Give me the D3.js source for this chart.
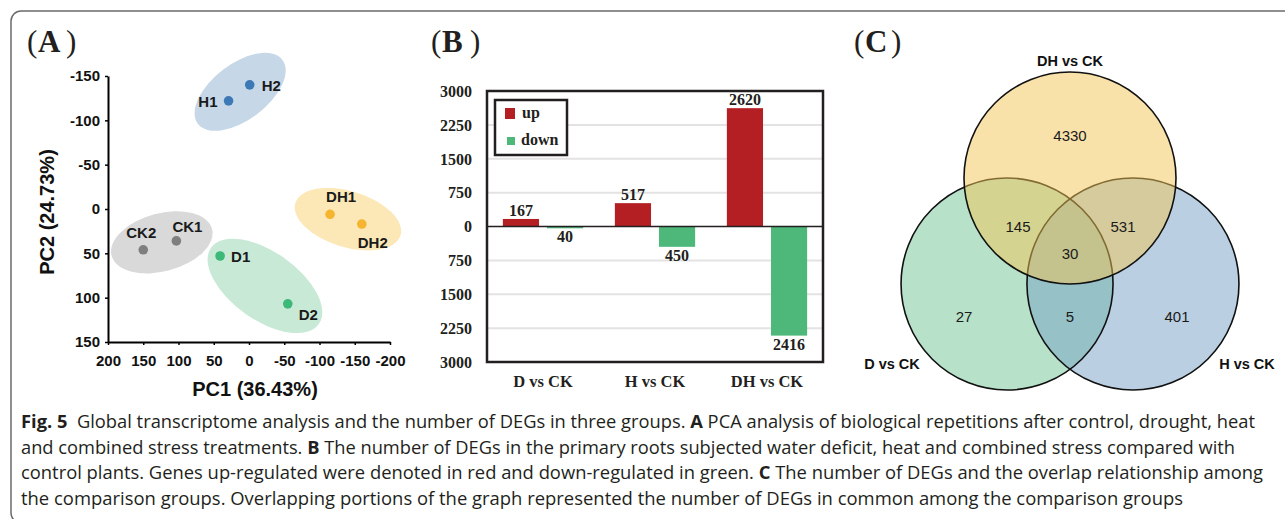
<!DOCTYPE html>
<html>
<head>
<meta charset="utf-8">
<script src="https://cdn.jsdelivr.net/npm/d3@7"></script>
<style>
body { margin: 0; background: #fff; }
svg { display: block; }
</style>
</head>
<body>
<svg id="fig" width="1285" height="519"></svg>
<script>
// panel A - PCA scores
var pcaSamples = ["CK1", "CK2", "D1", "D2", "H1", "H2", "DH1", "DH2"];
var pcaGroups = ["CK", "CK", "D", "D", "H", "H", "DH", "DH"];
var pcaPC1 = [103, 150, 41, -55, 29, -1, -115, -160];
var pcaPC2 = [36, 46, 53, 107, -122, -140, 6, 17];
var pcaTicksX = [200, 150, 100, 50, 0, -50, -100, -150, -200];
var pcaTicksY = [-150, -100, -50, 0, 50, 100, 150];

// panel B - DEG counts
var comparisons = ["D vs CK", "H vs CK", "DH vs CK"];
var upCounts = [167, 517, 2620];
var downCounts = [40, 450, 2416];
var degTicks = [3000, 2250, 1500, 750, 0, -750, -1500, -2250, -3000];

// panel C - venn
var vennSets = ["DH", "D", "H"];
var vennSetLabels = ["DH vs CK", "D vs CK", "H vs CK"];
var vennRegions = ["DH", "D", "H", "D&DH", "DH&H", "D&H", "D&DH&H"];
var vennCounts = [4330, 27, 401, 145, 531, 5, 30];

var svg = d3.select("#fig");
var ink = "#231f20";

svg.append("rect").attr("width", 1285).attr("height", 519).attr("fill", "#fff");
svg.append("rect")
    .attr("x", 11).attr("y", 11).attr("width", 1300).attr("height", 512)
    .attr("rx", 10)
    .attr("fill", "none").attr("stroke", "#6b6b6b").attr("stroke-width", 1.5);

function panelLetter(x, letter) {
    var t = svg.append("text").attr("y", 52)
        .attr("font-family", "Liberation Serif, serif").attr("font-size", 31).attr("fill", ink);
    t.append("tspan").attr("x", x).text("(");
    t.append("tspan").attr("x", x + 11).attr("font-weight", "bold").text(letter);
    t.append("tspan").attr("x", x + (letter === "C" ? 37 : 39)).text(")");
}
panelLetter(27, "A");
panelLetter(431, "B");
panelLetter(854, "C");

// ---------- A ----------
var groupColor = { CK: "#7f7f7f", D: "#3cb878", H: "#3d7ab5", DH: "#f5b52e" };
var groupFill = { CK: "#d9d9d9", D: "#c9e9d7", H: "#c6d7e8", DH: "#fce7b6" };
// ellipse shape per group: offset of centre from the pair midpoint, radii (px)
var groupShape = {
    CK: { dx: 2, dy: -3, rx: 52, ry: 29 },
    D: { dx: 11, dy: 6, rx: 66, ry: 34 },
    H: { dx: 1, dy: -1, rx: 53, ry: 28 },
    DH: { dx: 2, dy: 0, rx: 55, ry: 28 }
};
var labelPos = {
    CK1: [11, -9, "middle"], CK2: [-2, -12, "middle"],
    D1: [11, 6, "start"], D2: [11, 16, "start"],
    H1: [-11, 6, "end"], H2: [12, 6, "start"],
    DH1: [11, -12, "middle"], DH2: [11, 24, "middle"]
};

var xA = d3.scaleLinear().domain([200, -200]).range([108, 390]);
var yA = d3.scaleLinear().domain([-150, 150]).range([76, 342]);

var pca = pcaSamples.map(function (s, i) {
    return { id: s, group: pcaGroups[i], x: xA(pcaPC1[i]), y: yA(pcaPC2[i]) };
});

var gA = svg.append("g");
var groupNames = ["H", "CK", "D", "DH"];
groupNames.forEach(function (g) {
    var pts = pca.filter(function (d) { return d.group === g; });
    var mx = d3.mean(pts, function (d) { return d.x; });
    var my = d3.mean(pts, function (d) { return d.y; });
    var ang = Math.atan2(pts[1].y - pts[0].y, pts[1].x - pts[0].x) * 180 / Math.PI;
    if (ang > 90) ang -= 180;
    if (ang < -90) ang += 180;
    var sh = groupShape[g];
    gA.append("ellipse")
        .attr("transform", "translate(" + (mx + sh.dx) + "," + (my + sh.dy) + ") rotate(" + ang + ")")
        .attr("rx", sh.rx).attr("ry", sh.ry)
        .attr("fill", groupFill[g]);
});

var axisFont = function (sel) {
    sel.selectAll("text")
        .attr("font-family", "Liberation Sans, Arial, sans-serif")
        .attr("font-weight", "bold").attr("font-size", 15).attr("fill", "#111");
    sel.selectAll("line").attr("stroke", "#000").attr("stroke-width", 1.5);
    sel.select(".domain").attr("stroke", "#000").attr("stroke-width", 2);
};

gA.append("g").attr("transform", "translate(108,0)")
    .call(d3.axisLeft(yA).tickValues(pcaTicksY).tickSize(3).tickSizeOuter(0).tickPadding(5).tickFormat(d3.format("d")))
    .call(axisFont);
gA.append("g").attr("transform", "translate(0,342)")
    .call(d3.axisBottom(xA).tickValues(pcaTicksX).tickSize(3).tickSizeOuter(0).tickPadding(10).tickFormat(d3.format("d")))
    .call(axisFont);
gA.selectAll(".tick text").text(function () { return this.textContent.replace("\u2212", "-"); });

gA.selectAll("circle.pt").data(pca).enter().append("circle")
    .attr("class", "pt")
    .attr("cx", function (d) { return d.x; }).attr("cy", function (d) { return d.y; })
    .attr("r", 4.8)
    .attr("fill", function (d) { return groupColor[d.group]; });

gA.selectAll("text.lbl").data(pca).enter().append("text")
    .attr("class", "lbl")
    .attr("x", function (d) { return d.x + labelPos[d.id][0]; })
    .attr("y", function (d) { return d.y + labelPos[d.id][1]; })
    .attr("text-anchor", function (d) { return labelPos[d.id][2]; })
    .attr("font-family", "Liberation Sans, Arial, sans-serif")
    .attr("font-weight", "bold").attr("font-size", 15).attr("fill", "#1a1a1a")
    .text(function (d) { return d.id; });

gA.append("text").attr("x", 255).attr("y", 396).attr("text-anchor", "middle")
    .attr("font-family", "Liberation Sans, Arial, sans-serif").attr("font-weight", "bold")
    .attr("font-size", 20).attr("fill", "#111").text("PC1 (36.43%)");
gA.append("text").attr("transform", "translate(54,212) rotate(-90)").attr("text-anchor", "middle")
    .attr("font-family", "Liberation Sans, Arial, sans-serif").attr("font-weight", "bold")
    .attr("font-size", 20).attr("fill", "#111").text("PC2 (24.73%)");

// ---------- B ----------
var serif = "Liberation Serif, Times New Roman, serif";
var xB = d3.scaleBand().domain(comparisons).range([487, 823]);
var xSub = d3.scaleBand().domain(["up", "down"]).range([0, xB.bandwidth()])
    .paddingInner(0.18).paddingOuter(0.36);
var yB = d3.scaleLinear().domain([-3000, 3000]).range([362, 91]);
var gB = svg.append("g");

gB.selectAll("line.grid").data(degTicks.filter(function (t) { return Math.abs(t) !== 3000 && t !== 0; }))
    .enter().append("line").attr("class", "grid")
    .attr("x1", 487).attr("x2", 823)
    .attr("y1", function (d) { return yB(d); }).attr("y2", function (d) { return yB(d); })
    .attr("stroke", "#e3e3e3").attr("stroke-width", 2);

var bars = [];
comparisons.forEach(function (c, i) {
    bars.push({ cat: c, key: "up", v: upCounts[i] });
    bars.push({ cat: c, key: "down", v: downCounts[i] });
});
var barColor = { up: "#b41f24", down: "#4db87a" };

gB.selectAll("rect.bar").data(bars).enter().append("rect")
    .attr("class", "bar")
    .attr("x", function (d) { return xB(d.cat) + xSub(d.key); })
    .attr("width", xSub.bandwidth())
    .attr("y", function (d) { return d.key === "up" ? yB(d.v) : yB(0); })
    .attr("height", function (d) { return d.key === "up" ? yB(0) - yB(d.v) : yB(-d.v) - yB(0); })
    .attr("fill", function (d) { return barColor[d.key]; });

gB.selectAll("text.val").data(bars).enter().append("text")
    .attr("class", "val")
    .attr("x", function (d) { return xB(d.cat) + xSub(d.key) + xSub.bandwidth() / 2; })
    .attr("y", function (d) { return d.key === "up" ? yB(d.v) - 3 : yB(-d.v) + 14; })
    .attr("text-anchor", "middle")
    .attr("font-family", serif).attr("font-weight", "bold").attr("font-size", 16).attr("fill", ink)
    .text(function (d) { return d.v; });

gB.append("line").attr("x1", 487).attr("x2", 823).attr("y1", yB(0)).attr("y2", yB(0))
    .attr("stroke", ink).attr("stroke-width", 1.6);
gB.append("rect").attr("x", 487).attr("y", 91).attr("width", 336).attr("height", 271)
    .attr("fill", "none").attr("stroke", ink).attr("stroke-width", 2.5);

gB.selectAll("text.yt").data(degTicks).enter().append("text")
    .attr("class", "yt")
    .attr("x", 472).attr("y", function (d) { return yB(d); }).attr("dy", "0.36em")
    .attr("text-anchor", "end")
    .attr("font-family", serif).attr("font-weight", "bold").attr("font-size", 16).attr("fill", ink)
    .text(function (d) { return Math.abs(d); });

gB.selectAll("text.cat").data(comparisons).enter().append("text")
    .attr("class", "cat")
    .attr("x", function (d) { return xB(d) + xB.bandwidth() / 2; }).attr("y", 387)
    .attr("text-anchor", "middle")
    .attr("font-family", serif).attr("font-weight", "bold").attr("font-size", 16.5).attr("fill", ink)
    .text(function (d) { return d; });

var leg = gB.append("g");
leg.append("rect").attr("x", 495).attr("y", 100).attr("width", 72).attr("height", 55)
    .attr("fill", "#fff").attr("stroke", ink).attr("stroke-width", 2.5);
leg.append("rect").attr("x", 505).attr("y", 108).attr("width", 10).attr("height", 11).attr("fill", barColor.up);
leg.append("rect").attr("x", 507).attr("y", 137).attr("width", 8).attr("height", 8).attr("fill", barColor.down);
leg.append("text").attr("x", 522).attr("y", 118)
    .attr("font-family", serif).attr("font-weight", "bold").attr("font-size", 16).attr("fill", ink).text("up");
leg.append("text").attr("x", 521).attr("y", 145)
    .attr("font-family", serif).attr("font-weight", "bold").attr("font-size", 16).attr("fill", ink).text("down");

// ---------- C ----------
var vr = 106, vcx = 1070, vcy = 178;
var vennCentre = {
    DH: [vcx, vcy],
    D: [vcx - 0.594 * vr, vcy + vr],
    H: [vcx + 0.594 * vr, vcy + vr]
};
var vennColor = { DH: "#f1c555", D: "#6fc393", H: "#75a1c5" };
var gC = svg.append("g");
var circ = function (k) {
    return gC.append("circle").attr("cx", vennCentre[k][0]).attr("cy", vennCentre[k][1]).attr("r", vr);
};
["D", "H"].forEach(function (k) {
    circ(k).attr("fill", vennColor[k]).attr("fill-opacity", 0.5);
});
["D", "H"].forEach(function (k) {
    circ(k).attr("fill", "none").attr("stroke", "#111").attr("stroke-width", 1.6);
});
circ("DH").attr("fill", vennColor.DH).attr("fill-opacity", 0.5).attr("stroke", "#111").attr("stroke-width", 1.6);

// label spot of each region, relative to the DH centre, in radius units
var regionSpot = {
    "DH": [0, -0.4], "D": [-1.0, 1.31], "H": [1.01, 1.31],
    "D&DH": [-0.49, 0.46], "DH&H": [0.5, 0.46], "D&H": [0, 1.31], "D&DH&H": [0, 0.71]
};
gC.selectAll("text.n").data(vennRegions).enter().append("text")
    .attr("class", "n")
    .attr("x", function (d) { return vcx + regionSpot[d][0] * vr; })
    .attr("y", function (d) { return vcy + regionSpot[d][1] * vr; })
    .attr("dy", "0.36em").attr("text-anchor", "middle")
    .attr("font-family", "Liberation Sans, Arial, sans-serif").attr("font-size", 15).attr("fill", "#1a1a1a")
    .text(function (d, i) { return vennCounts[i]; });

var setLabelPos = { DH: [1070, 66], D: [892, 369], H: [1247, 369] };
gC.selectAll("text.set").data(vennSets).enter().append("text")
    .attr("class", "set")
    .attr("x", function (d) { return setLabelPos[d][0]; })
    .attr("y", function (d) { return setLabelPos[d][1]; })
    .attr("text-anchor", "middle")
    .attr("font-family", "Liberation Sans, Arial, sans-serif").attr("font-weight", "bold")
    .attr("font-size", 14.5).attr("fill", "#111")
    .text(function (d, i) { return vennSetLabels[i]; });

// ---------- caption ----------
var captionLines = [
    [["Fig. 5", true], ["  Global transcriptome analysis and the number of DEGs in three groups. ", false], ["A", true], [" PCA analysis of biological repetitions after control, drought, heat", false]],
    [["and combined stress treatments. ", false], ["B", true], [" The number of DEGs in the primary roots subjected water deficit, heat and combined stress compared with", false]],
    [["control plants. Genes up-regulated were denoted in red and down-regulated in green. ", false], ["C", true], [" The number of DEGs and the overlap relationship among", false]],
    [["the comparison groups. Overlapping portions of the graph represented the number of DEGs in common among the comparison groups", false]]
];
var captionEnds = [1255, 1235, 1263, 1183];
var capG = svg.append("g");
captionLines.forEach(function (parts, i) {
    var t = capG.append("text")
        .attr("x", 21).attr("y", 428 + i * 25.5)
        .attr("font-family", "Open Sans, Noto Sans, sans-serif").attr("font-size", 18)
        .attr("fill", ink).attr("xml:space", "preserve")
        .attr("textLength", captionEnds[i] - 21).attr("lengthAdjust", "spacingAndGlyphs");
    parts.forEach(function (p) {
        t.append("tspan").attr("font-weight", p[1] ? "bold" : null).text(p[0]);
    });
});
</script>
</body>
</html>
